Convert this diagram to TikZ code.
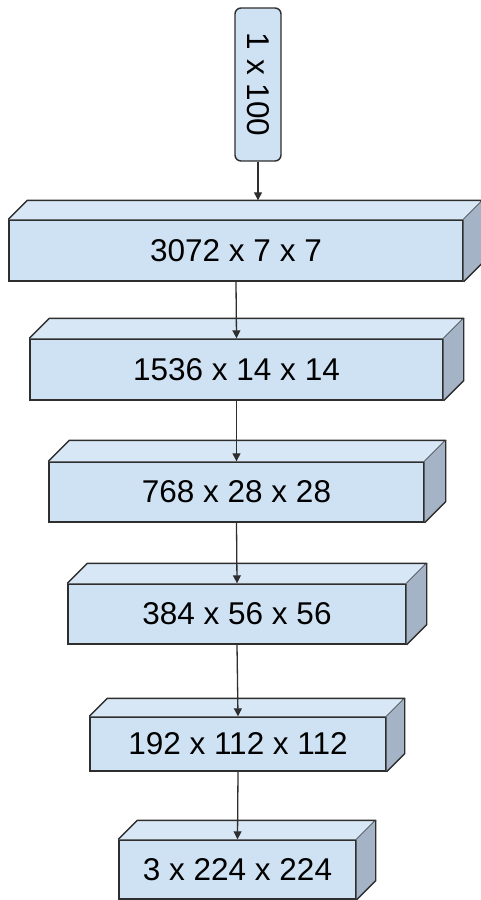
\documentclass[tikz,border=0pt]{standalone}
\usepackage{fontspec}
\setmainfont{Liberation Sans}
\usepackage{xcolor}
\usepackage{tikz}
\usetikzlibrary{arrows.meta}

\definecolor{frontblue}{HTML}{CFE2F3}
\definecolor{topblue}{HTML}{D8E7F5}
\definecolor{sideblue}{HTML}{A4B4C6}
\definecolor{edgegray}{HTML}{2E2E2E}

\tikzset{
  layer/.style={draw=edgegray, line width=1.4pt, fill=frontblue, inner sep=0pt,
    font=\fontsize{31.5}{36}\selectfont},
  inputbox/.style={draw=edgegray, line width=1.4pt, fill=frontblue, inner sep=0pt,
    rounded corners=6pt, minimum width=46pt, minimum height=153pt,
    font=\fontsize{31.5}{36}\selectfont},
  face/.style={draw=edgegray, line width=1.4pt, line join=round},
  arrow/.style={draw=edgegray, line width=1.3pt, -{Triangle[length=8pt,width=8pt]}}
}

\begin{document}
\begin{tikzpicture}[x=1pt,y=-1pt]
  \useasboundingbox (0,0) rectangle (480,900);

  % input vector
  \node[inputbox] (z) at (258,84.5) {\rotatebox{-90}{1 x 100}};

  % front faces
  \node[layer, minimum width=454pt, minimum height=61pt] (l1) at (236,250.5) {3072 x 7 x 7};
  \node[layer, minimum width=413pt, minimum height=61pt] (l2) at (236.5,369.5) {1536 x 14 x 14};
  \node[layer, minimum width=375pt, minimum height=60pt] (l3) at (236.5,492) {768 x 28 x 28};
  \node[layer, minimum width=338pt, minimum height=60pt] (l4) at (237,614) {384 x 56 x 56};
  \node[layer, minimum width=296pt, minimum height=54pt] (l5) at (238,744) {192 x 112 x 112};
  \node[layer, minimum width=237pt, minimum height=59pt] (l6) at (237.5,869.5) {3 x 224 x 224};

  % top and side faces
  \foreach \n/\d in {l1/19,l2/20,l3/21,l4/20,l5/18,l6/19}{
    \fill[topblue]  (\n.north west) -- ++(\d,-\d) -- ([shift={(\d,-\d)}]\n.north east)
      -- (\n.north east) -- cycle;
    \draw[face] (\n.north west) -- ++(\d,-\d) -- ([shift={(\d,-\d)}]\n.north east)
      -- (\n.north east);
    \fill[sideblue] (\n.north east) -- ++(\d,-\d) -- ([shift={(\d,-\d)}]\n.south east)
      -- (\n.south east) -- cycle;
    \draw[face] ([shift={(\d,-\d)}]\n.north east) -- ([shift={(\d,-\d)}]\n.south east)
      -- (\n.south east);
  }
  \coordinate (t1) at ([yshift=19pt]l1.north);

  % connectors
  \draw[arrow] (z.south) -- (z.south |- t1);
  \draw[arrow] (l1.south) -- (l2.north);
  \draw[arrow] (l2.south) -- (l3.north);
  \draw[arrow] (l3.south) -- (l4.north);
  \draw[arrow] (l4.south) -- (l5.north);
  \draw[arrow] (l5.south) -- (l6.north);
\end{tikzpicture}
\end{document}
